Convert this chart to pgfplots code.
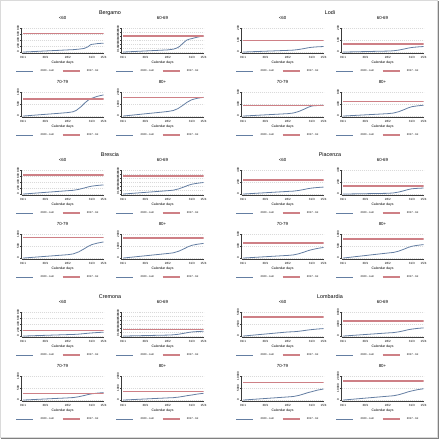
\documentclass[border=0pt]{standalone}
\usepackage{fontspec}
\setmainfont{Liberation Sans}
\usepackage{pgfplots}
\pgfplotsset{compat=1.18}
\definecolor{blueL}{RGB}{100,126,162}
\definecolor{redL}{RGB}{206,128,134}
\definecolor{axc}{RGB}{60,60,60}
\definecolor{gridc}{RGB}{218,218,218}
\pgfplotsset{
 legend image code/.code={\draw[#1] (0pt,0pt) -- (17pt,0pt);},
 mysub/.style={
  scale only axis, width=82pt, height=25pt,
  xmin=-1, xmax=105,
  axis x line*=bottom, axis y line*=left,
  axis line style={-, line width=0.4pt, draw=axc},
  tick align=outside, major tick length=1.3pt, tick style={line width=0.3pt, draw=axc},
  xtick={1,30,59,90,105}, xticklabels={01/1,30/1,28/2,31/3,15/4},
  ymajorgrids, grid style={draw=gridc, line width=0.3pt, dash pattern=on 1pt off 1pt},
  ticklabel style={font=\fontsize{3}{3.5}\selectfont},
  xticklabel style={inner sep=1pt, yshift=-0.4pt},
  yticklabel style={rotate=90, anchor=south, inner sep=0.8pt},
  scaled y ticks=false, /pgf/number format/1000 sep={}, /pgf/number format/assume math mode=true,
  title style={font=\fontsize{4.4}{5}\selectfont, at={(0.5,1)}, anchor=south, inner sep=0pt, yshift=1.8pt},
  xlabel={Calendar days},
  xlabel style={font=\fontsize{3.4}{4}\selectfont, at={(axis description cs:0.5,0)}, anchor=center, yshift=-9.8pt},
  legend style={at={(axis description cs:0.44,0)}, anchor=center, yshift=-18pt, draw=none, fill=none,
    font=\fontsize{2.7}{3}\selectfont, inner sep=0pt, nodes={inner sep=0.8pt},
    /tikz/every odd column/.append style={column sep=6pt},
    /tikz/every even column/.append style={column sep=7pt}},
  legend columns=2, legend cell align=left,
 }
}
\newcommand{\sub}[8]{%
\begin{axis}[mysub, at={(#1pt,-#2pt)}, anchor=south west, title={#3}, ymin=#4, ymax=#5, ytick={#6}]
\addplot[draw=blueL, line width=0.8pt, mark=none] coordinates {#8};
\addplot[draw=redL, line width=1.3pt, mark=none] coordinates {(1,#7) (105,#7)};
\legend{2020 - cum, 2017 - tot}
\end{axis}}
\begin{document}
\begin{tikzpicture}
\path[use as bounding box] (0pt,0pt) rectangle (440pt,-440pt);
\draw[draw=gridc, line width=0.4pt] (0.5pt,-0.5pt) rectangle (437pt,-437pt);
\draw[draw=gray, line width=1pt] (438pt,-1pt) -- (438pt,-438pt) -- (1pt,-438pt);
\foreach \t/\x/\y in {Bergamo/110/13, Lodi/330/13, Brescia/110/155, Piacenza/330/155, Cremona/110/297, Lombardia/330/297}
  \node[font=\fontsize{5.4}{6}\selectfont] at (\x pt,-\y pt) {\t};
% Bergamo
\sub{21.5}{53}{<60}{-32}{800}{0,200,400,600,800}{608}{(1,0)(15,17)(30,36)(45,54)(59,72)(66,80)(73,96)(80,120)(85,176)(88,240)(90,256)(97,280)(105,296)}
\sub{121.5}{53}{60-69}{-24}{600}{0,100,200,300,400,500,600}{402}{(1,0)(15,13)(30,27)(45,41)(59,54)(66,72)(70,96)(74,138)(79,228)(83,294)(87,324)(90,336)(97,372)(105,402)}
\sub{21.5}{117}{70-79}{-40}{1000}{0,500,1000}{710}{(1,0)(15,35)(30,72)(45,108)(59,145)(66,180)(70,240)(76,390)(81,550)(86,680)(90,740)(97,820)(105,880)}
\sub{121.5}{117}{80+}{-80}{2000}{0,1000,2000}{1560}{(1,0)(15,90)(30,190)(45,285)(59,380)(66,460)(72,620)(79,920)(84,1160)(90,1360)(97,1480)(105,1560)}
% Lodi
\sub{241.5}{53}{<60}{-8}{200}{0,100,200}{98}{(1,0)(15,3.4)(30,7)(45,10.6)(59,14)(66,16.1)(73,21.3)(80,29.1)(85,35.3)(90,40)(97,43.3)(105,46)}
\sub{341.5}{53}{60-69}{-8}{200}{0,100,200}{66}{(1,0)(15,1.9)(30,4)(45,6.1)(59,8)(66,10.4)(73,16.4)(80,25.4)(85,32.6)(90,38)(97,42.4)(105,46)}
\sub{241.5}{117}{70-79}{-24}{600}{0,300,600}{270}{(1,0)(15,14.4)(30,30)(45,45.6)(59,60)(66,75.4)(73,113.8)(80,171.4)(85,217.4)(90,252)(97,261.9)(105,270)}
\sub{341.5}{117}{80+}{-32}{800}{0,400,800}{488}{(1,0)(15,19.2)(30,40)(45,60.8)(59,80)(66,98.6)(73,145)(80,214.6)(85,270.2)(90,312)(97,338.4)(105,360)}
% Brescia
\sub{21.5}{195}{<60}{-32}{800}{0,200,400,600,800}{632}{(1,0)(15,26.9)(30,56)(45,85.1)(59,112)(66,124.2)(73,154.6)(80,200.2)(85,236.6)(90,264)(97,286)(105,304)}
\sub{121.5}{195}{60-69}{-24}{600}{0,100,200,300,400,500,600}{450}{(1,0)(15,20.2)(30,42)(45,63.8)(59,84)(66,97)(73,129.4)(80,178)(85,216.8)(90,246)(97,269.1)(105,288)}
\sub{21.5}{259}{70-79}{-40}{1000}{0,500,1000}{860}{(1,0)(15,33.6)(30,70)(45,106.4)(59,140)(66,173.6)(73,257.6)(80,383.6)(85,484.4)(90,560)(97,620.5)(105,670)}
\sub{121.5}{259}{80+}{-80}{2000}{0,1000,2000}{1660}{(1,0)(15,91.2)(30,190)(45,288.8)(59,380)(66,434.4)(73,570.4)(80,774.4)(85,937.6)(90,1060)(97,1148)(105,1220)}
% Piacenza
\sub{241.5}{195}{<60}{-16}{400}{0,200,400}{236}{(1,0)(15,10.6)(30,22)(45,33.4)(59,44)(66,48.5)(73,59.7)(80,76.5)(85,89.9)(90,100)(97,108.8)(105,116)}
\sub{341.5}{195}{60-69}{-16}{400}{0,200,400}{136}{(1,0)(15,2.9)(30,6)(45,9.1)(59,12)(66,18.1)(73,33.3)(80,56.1)(85,74.3)(90,88)(97,94.6)(105,100)}
\sub{241.5}{259}{70-79}{-24}{600}{0,300,600}{378}{(1,0)(15,15.8)(30,33)(45,50.2)(59,66)(66,77.5)(73,106.3)(80,149.5)(85,184.1)(90,210)(97,239.7)(105,264)}
\sub{341.5}{259}{80+}{-40}{1000}{0,500,1000}{790}{(1,0)(15,50.4)(30,105)(45,159.6)(59,210)(66,232.4)(73,288.4)(80,372.4)(85,439.6)(90,490)(97,528.5)(105,560)}
% Cremona
\sub{21.5}{337}{<60}{-32}{800}{0,200,400,600,800}{184}{(1,0)(15,11.5)(30,24)(45,36.5)(59,48)(66,52.5)(73,63.7)(80,80.5)(85,93.9)(90,104)(97,117.2)(105,128)}
\sub{121.5}{337}{60-69}{-24}{600}{0,100,200,300,400,500,600}{162}{(1,0)(15,5.8)(30,12)(45,18.2)(59,24)(66,30.2)(73,45.8)(80,69.2)(85,88)(90,102)(97,111.9)(105,120)}
\sub{21.5}{401}{70-79}{-40}{1000}{0,500,1000}{260}{(1,0)(15,21.6)(30,45)(45,68.4)(59,90)(66,103.6)(73,137.6)(80,188.6)(85,229.4)(90,260)(97,287.5)(105,310)}
\sub{121.5}{401}{80+}{-80}{2000}{0,1000,2000}{700}{(1,0)(15,43.2)(30,90)(45,136.8)(59,180)(66,199.2)(73,247.2)(80,319.2)(85,376.8)(90,420)(97,497)(105,560)}
% Lombardia
\sub{241.5}{337}{<60}{-200}{5000}{0,2500,5000}{3950}{(1,0)(15,204)(30,425)(45,646)(59,850)(66,890)(73,990)(80,1140)(85,1260)(90,1350)(97,1460)(105,1550)}
\sub{341.5}{337}{60-69}{-320}{8000}{0,4000,8000}{5040}{(1,0)(15,249.6)(30,520)(45,790.4)(59,1040)(66,1142.4)(73,1398.4)(80,1782.4)(85,2089.6)(90,2320)(97,2540)(105,2720)}
\sub{241.5}{401}{70-79}{-400}{10000}{0,5000,10000}{7200}{(1,0)(15,312)(30,650)(45,988)(59,1300)(66,1476)(73,1916)(80,2576)(85,3104)(90,3500)(97,4105)(105,4600)}
\sub{341.5}{401}{80+}{-800}{20000}{0,10000,20000}{15800}{(1,0)(15,768)(30,1600)(45,2432)(59,3200)(66,3552)(73,4432)(80,5752)(85,6808)(90,7600)(97,8590)(105,9400)}
\end{tikzpicture}
\end{document}
